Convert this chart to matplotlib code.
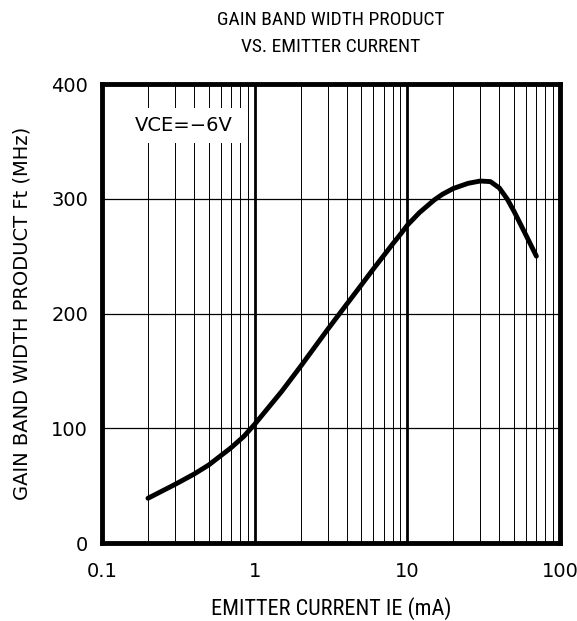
import matplotlib
matplotlib.use("Agg")
import matplotlib.pyplot as plt
import numpy as np

# emitter current (mA) vs gain bandwidth product (MHz)
ie_ma = [0.2, 0.3, 0.4, 0.5, 0.7, 0.85, 1, 1.5, 2, 3, 4, 5, 6, 7, 8, 9, 10,
         12, 15, 17, 20, 25, 30, 35, 40, 45, 50, 60, 70]
ft_mhz = [39, 51, 60, 68, 83, 93, 103.5, 132, 154, 186, 208, 225, 239, 250.5, 260.5, 269, 277,
          288, 299, 304, 309, 313.5, 315.5, 315, 309.5, 300, 289, 268, 250]

x_ticks = [0.1, 1, 10, 100]
x_ticklabels = ["0.1", "1", "10", "100"]
y_ticks = [0, 100, 200, 300, 400]

plt.rcParams['font.family'] = ['DejaVu Sans']
narrow = ['Roboto Condensed', 'DejaVu Sans']

fig = plt.figure(figsize=(5.77, 6.21), dpi=100)
ax = fig.add_axes([0.1768, 0.1256, 0.7938, 0.739])

ax.set_xscale('log')
ax.set_xlim(0.1, 100)
ax.set_ylim(0, 400)

# grid: thin minor lines, heavier decade lines
for dec in [0.1, 1, 10]:
    for m in range(2, 10):
        ax.axvline(dec * m, color='black', lw=0.7, zorder=1)
for v in [1, 10]:
    ax.axvline(v, color='black', lw=2.0, zorder=1)
for h in [100, 200, 300]:
    ax.axhline(h, color='black', lw=0.9, zorder=1)

ax.plot(ie_ma, ft_mhz, color='black', lw=3.5, solid_capstyle='round',
        solid_joinstyle='round', zorder=3)

for s in ax.spines.values():
    s.set_linewidth(3.5)

ax.set_xticks(x_ticks)
ax.set_xticklabels(x_ticklabels)
ax.set_yticks(y_ticks)
ax.minorticks_off()
ax.tick_params(length=0, labelsize=14, pad=14)
ax.tick_params(axis='y', pad=10)

ax.text(0.165, 364, "VCE=−6V", fontsize=14, ha='left', va='center',
        bbox=dict(facecolor='white', edgecolor='none', pad=6), zorder=4)

ax.set_xlabel("EMITTER CURRENT IE (mA)", fontsize=16, labelpad=11, family=narrow)
ax.set_ylabel("GAIN BAND WIDTH PRODUCT Ft (MHz)", fontsize=14, labelpad=14)
fig.text(0.573, 0.967, "GAIN BAND WIDTH PRODUCT", ha='center', va='center',
         fontsize=14, family=narrow)
fig.text(0.573, 0.925, "VS. EMITTER CURRENT", ha='center', va='center',
         fontsize=14, family=narrow)

fig.savefig("out.png", dpi=100)
